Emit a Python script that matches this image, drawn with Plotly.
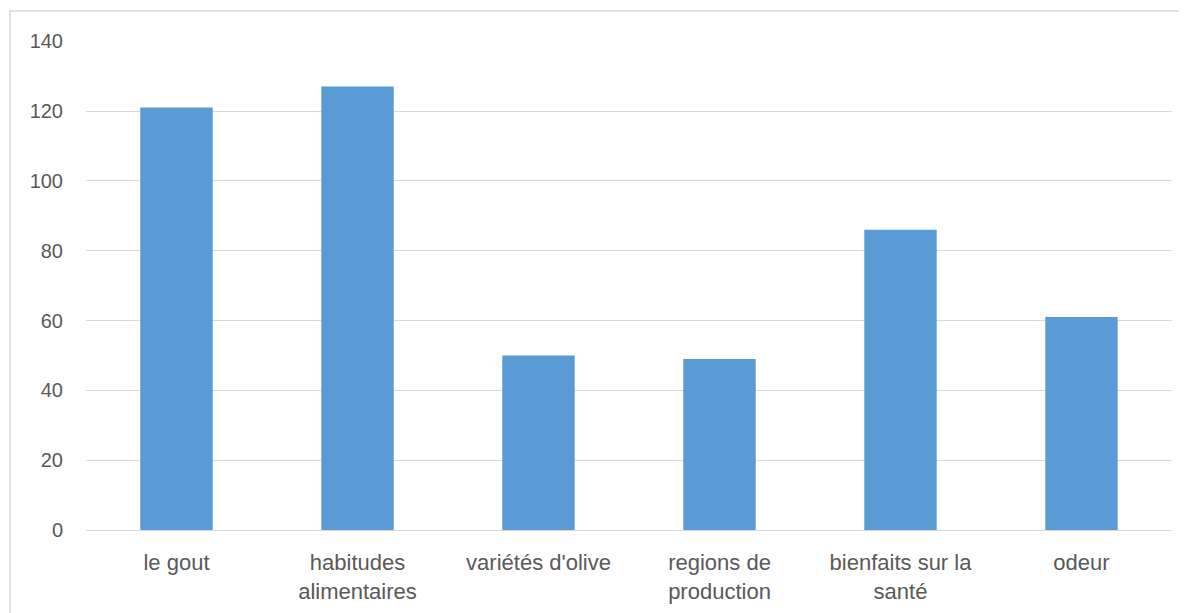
import plotly.graph_objects as go

categories = ["le gout", "habitudes<br>alimentaires", "variétés d'olive",
              "regions de<br>production", "bienfaits sur la<br>santé", "odeur"]
values = [121, 127, 50, 49, 86, 61]
y_ticks = [0, 20, 40, 60, 80, 100, 120, 140]

# page body has an 8px margin in the browser; compensate
OFF = 8
W, H = 1187, 613
L, R, T = 86 - OFF, 1187 - 1172 + OFF, 41 - OFF
ph = 530 - 41
B = H - T - ph
pw = W - L - R

fig = go.Figure(go.Bar(x=categories, y=values, marker=dict(color="#5B9BD5", line=dict(width=0))))

fig.update_layout(
    width=W, height=H,
    margin=dict(l=L, r=R, t=T, b=B),
    paper_bgcolor="white", plot_bgcolor="white",
    bargap=0.6,
    showlegend=False,
    font=dict(family="Liberation Sans, Arial, sans-serif", size=20, color="#595959"),
    xaxis=dict(showgrid=False, showline=False, zeroline=False, ticks="",
               ticklabelstandoff=17, tickfont=dict(size=22)),
    yaxis=dict(range=[0, 140.05], tickvals=y_ticks, showgrid=True, gridcolor="#D9D9D9",
               gridwidth=1, zeroline=True, zerolinecolor="#D9D9D9", zerolinewidth=1,
               showline=False, ticks="", ticklabelstandoff=22, tickfont=dict(size=20)),
    shapes=[dict(type="rect", xref="paper", yref="paper",
                 x0=(10 - OFF - L) / pw, x1=(W + 20 - L) / pw,
                 y0=-(H + 20 - (T + ph)) / ph, y1=(T + ph - (11 - OFF)) / ph,
                 line=dict(color="#D9D9D9", width=1.5), fillcolor="rgba(0,0,0,0)", layer="below")],
)

fig.write_html("out.html")
